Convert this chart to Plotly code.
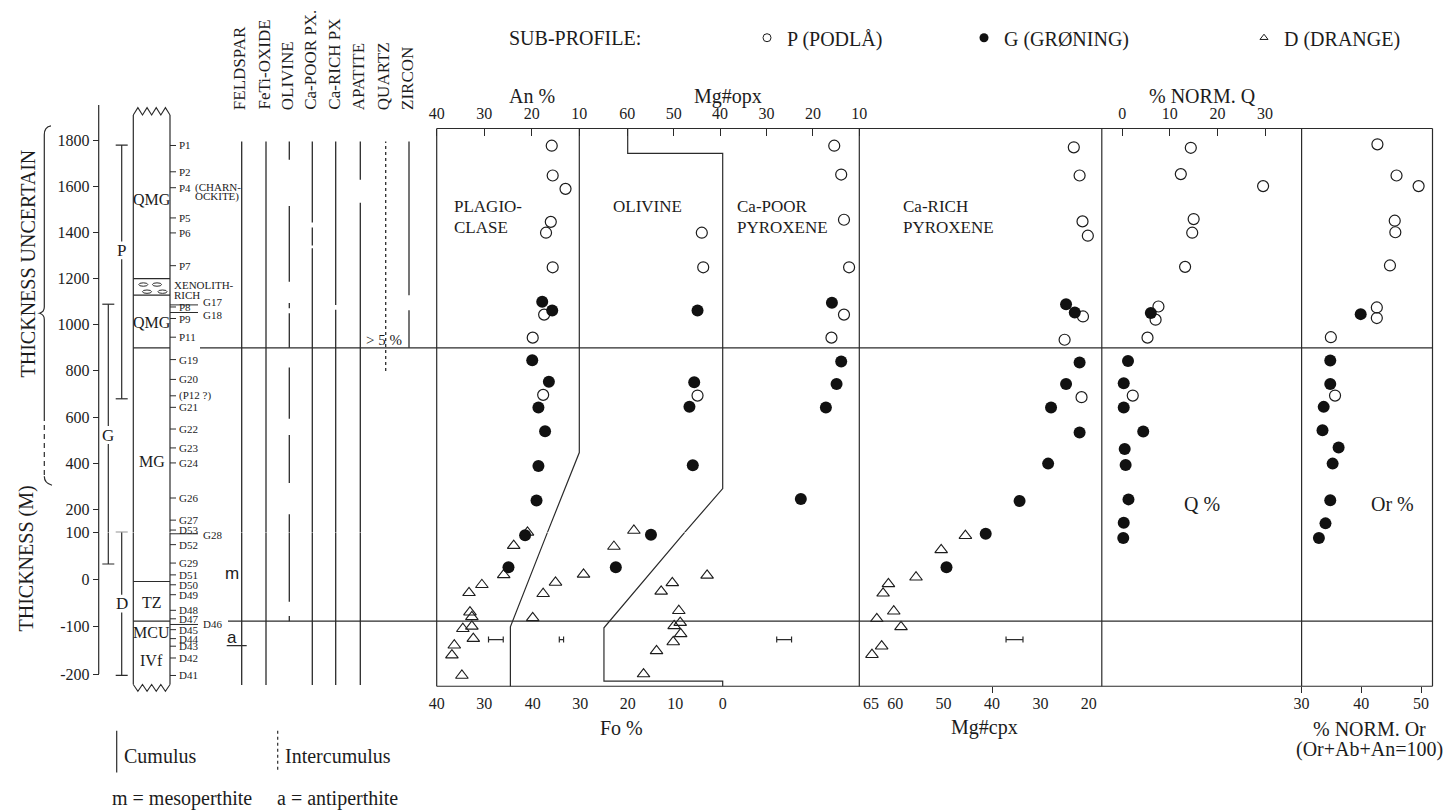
import plotly.graph_objects as go

W, H = 1449, 810
SERIF = "Liberation Serif, Times New Roman, serif"
SANS = "Liberation Sans, Arial, sans-serif"
INK = "#1c1c1c"
LN = "#2b2b2b"
BRK = 100  # thickness (m) where the vertical scale changes

# ---------------- DATA ----------------
# Plagioclase An %
P_AN_T = [1776, 1647, 1589, 1446, 1399, 1249, 1044, 944, 696]
P_AN = [15.8, 15.6, 12.9, 16.0, 17.0, 15.6, 17.4, 19.8, 17.6]
G_AN_T = [1100, 1062, 846, 753, 641, 538, 388, 238, 94, 26]
G_AN = [17.8, 15.7, 19.9, 16.4, 18.6, 17.2, 18.6, 19.0, 21.4, 24.9]
D_AN_T = [100, 72, 10, -11, -28, -69, -79, -99, -104, -125, -139, -160, -203]
D_AN = [20.9, 23.8, 25.9, 30.5, 33.2, 33.0, 32.6, 32.6, 34.5, 32.3, 36.3, 36.8, 34.7]
# Olivine Fo %
P_FO_T = [1399, 1249, 693]
P_FO = [4.4, 4.1, 5.3]
G_FO_T = [1062, 751, 645, 391, 95, 26]
G_FO = [5.3, 6.0, 7.0, 6.3, 15.1, 22.5]
D_FO_T = [108, 70, 11, -6, -30, -81]
D_FO = [18.7, 22.9, 29.3, 35.2, 37.8, 40.0]
# Ca-poor pyroxene Mg#opx
P_OPX_T = [1776, 1651, 1455, 1249, 1044, 944]
P_OPX = [15.4, 13.9, 13.3, 12.2, 13.3, 16.0]
G_OPX_T = [1095, 841, 743, 641, 245]
G_OPX = [15.9, 13.9, 14.9, 17.2, 22.6]
D_OPX_T = [9, -7, -25, -66, -91, -98, -115, -132, -151, -200]
D_OPX = [42.8, 50.3, 52.7, 48.9, 48.6, 49.9, 48.5, 50.1, 53.7, 56.5]
# Ca-rich pyroxene Mg#cpx
P_CPX_T = [1769, 1647, 1448, 1386, 1036, 935, 686]
P_CPX = [23.1, 21.9, 21.3, 20.2, 21.2, 25.0, 21.5]
G_CPX_T = [1089, 1053, 836, 743, 641, 533, 398, 236, 97, 26]
G_CPX = [24.7, 22.9, 21.9, 24.7, 27.8, 21.9, 28.4, 34.3, 41.3, 49.4]
D_CPX_T = [93, 63, 5, -9, -29, -67, -83, -100, -141, -159]
D_CPX = [45.5, 50.5, 55.7, 61.4, 62.5, 60.3, 63.8, 58.8, 62.8, 64.8]
# Normative Q %
P_Q_T = [1767, 1653, 1601, 1458, 1399, 1251, 1079, 1022, 944, 693]
P_Q = [14.4, 12.3, 29.6, 15.0, 14.7, 13.2, 7.6, 7.0, 5.3, 2.2]
G_Q_T = [1051, 843, 746, 641, 537, 461, 392, 243, 142, 88]
G_Q = [6.0, 1.2, 0.3, 0.3, 4.4, 0.5, 0.7, 1.3, 0.3, 0.2]
# Normative Or %
P_OR_T = [1782, 1647, 1601, 1451, 1401, 1257, 1075, 1029, 946, 693]
P_OR = [42.7, 45.9, 49.6, 45.6, 45.7, 44.8, 42.6, 42.6, 34.9, 35.6]
G_OR_T = [1046, 845, 743, 644, 543, 468, 398, 239, 139, 88]
G_OR = [39.9, 34.8, 34.8, 33.7, 33.5, 36.2, 35.2, 34.8, 34.0, 32.9]
# analytical uncertainty bars (centre, half width) at one level
ERR_T = -127
ERR_AN = (27.55, 1.55)
ERR_FO = (33.95, 0.45)
ERR_OPX = (26.2, 1.6)
ERR_CPX = (35.35, 1.75)
# mineral stability field boundaries
PLAG_FIELD_AN = [10, 10, 16.7, 24.5, 24.5]
PLAG_FIELD_T = [1850, 446, 100, -100, -226]
OL_FIELD_FO = [20, 20, 0, 0, 8, 25, 25, 0, 0]
OL_FIELD_T = [1850, 1743, 1743, 290, 100, -102, -215, -215, -226]

# stratigraphic column
UNIT_NAMES = ["QMG", "QMG", "MG", "TZ", "MCU", "IVf"]
UNIT_T = [1545, 1009, 407, -49, -112, -171]
UNIT_BOUNDS = [1200, 1128, 900, -4, -88]
COL_TOP, COL_BOT = 1909, -222
SAMPLES = ["P1", "P2", "P4", "P5", "P6", "P7", "P8", "P9", "P11", "G19", "G20", "(P12 ?)",
           "G21", "G22", "G23", "G24", "G26", "G27", "D53", "D52", "G29", "D51", "D50",
           "D49", "D48", "D47", "D45", "D44", "D43", "D42", "D41"]
SAMPLE_T = [1777, 1663, 1594, 1463, 1398, 1256, 1077, 1027, 946, 849, 763, 692,
            642, 548, 466, 401, 249, 153, 110, 74, 35, 10, -11,
            -32, -65, -83, -106, -125, -141, -166, -203]
SAMPLES_LONG = ["G17", "G18", "G28", "D46"]
SAMPLES_LONG_T = [1086, 1053, 97, -95]
SAMPLES_LONG_LABEL_T = [1100, 1043, 95, -95]
BAR_NAMES = ["P", "G", "D"]
BAR_TOP = [1779, 1089, 100]
BAR_BOT = [679, 33, -203]
BAR_LABEL_T = [1322, 522, -51]

# mineral presence (cumulus) intervals
MINERALS = ["FELDSPAR", "FeTi-OXIDE", "OLIVINE", "Ca-POOR PX.", "Ca-RICH PX",
            "APATITE", "QUARTZ", "ZIRCON"]
MIN_INTERVALS = [
    [(1794, -223)],
    [(1794, -223)],
    [(1794, 1715), (1515, 1186), (1094, 1072), (1050, 900), (815, 593),
     (522, 314), (179, -47), (-77, -88)],
    [(1794, 1443), (1422, 1343), (1332, -223)],
    [(1794, 1086), (1065, -223)],
    [(1794, 1629), (1529, -223)],
    [(1794, 800)],
    [(1794, 1128), (1063, 900)],
]
MIN_INTERCUMULUS = [False, False, False, False, False, False, True, False]

YTICK_U = [200, 400, 600, 800, 1000, 1200, 1400, 1600, 1800]
YTICK_L = [-200, -100, 0, 100]
AN_TOP_TICKS = [40, 30, 20, 10]
AN_BOT_TICKS = [40, 30]
FO_TICKS = [40, 30, 20, 10, 0]
OPX_TICKS = [60, 50, 40, 30, 20, 10]
CPX_TICKS = [65, 60, 50, 40, 30, 20]
Q_TICKS = [0, 10, 20, 30]
OR_TICKS = [30, 40, 50]

# ---------------- scales ----------------
K_U, PX1800 = 0.233, 133.5
K_L = 0.477
PX_BRK = PX1800 + (1800 - BRK) * K_U
Y_SPLIT = 1 - PX_BRK / H
YU = [BRK, 1800 + PX1800 / K_U]
YL = [BRK - (H - PX_BRK) / K_L, BRK]


def lin_range(va, pa, vb, pb):
    s = (vb - va) / (pb - pa)
    return [va - pa * s, va + (W - pa) * s]


R_AN = lin_range(40, 436.7, 10, 579.3)
R_FO = lin_range(40, 532.7, 0, 722.7)
R_OPX = lin_range(60, 627.3, 10, 859.3)
R_CPX = lin_range(65, 871.0, 20, 1088.8)
R_Q = lin_range(0, 1122.3, 30, 1265.0)
R_OR = lin_range(30, 1301.6, 50, 1421.0)

BOX_L, BOX_R, BOX_T, BOX_B = 436.7, 1432.5, 121.7, 685.0


def yname(t):
    return 'y' if t >= BRK else 'y2'


def gap_t(t, px):
    return px / K_U if t >= BRK else px / K_L


fig = go.Figure()


def add_points(xa, ts, vs, sty):
    for ya, keep in (('y', lambda t: t >= BRK), ('y2', lambda t: t < BRK)):
        xs = [v for v, t in zip(vs, ts) if keep(t)]
        ys = [t for t in ts if keep(t)]
        if xs:
            fig.add_trace(go.Scatter(x=xs, y=ys, xaxis=xa, yaxis=ya, mode='markers',
                                     marker=sty, cliponaxis=False, showlegend=False,
                                     hoverinfo='skip'))


def add_polyline(xa, vs, ts):
    up = [(v, t) for v, t in zip(vs, ts) if t >= BRK]
    lo = [(v, t) for v, t in zip(vs, ts) if t <= BRK]
    for ya, pts in (('y', up), ('y2', lo)):
        if len(pts) > 1:
            fig.add_trace(go.Scatter(x=[p[0] for p in pts], y=[p[1] for p in pts],
                                     xaxis=xa, yaxis=ya, mode='lines',
                                     line=dict(color=LN, width=1.2), showlegend=False,
                                     hoverinfo='skip'))


STY_P = dict(symbol='circle-open', size=11, color=INK, line=dict(width=1.2, color=INK))
STY_G = dict(symbol='circle', size=12, color='#111111', line=dict(width=0))
STY_D = dict(symbol='triangle-up-open', size=11, color=INK, line=dict(width=1.1, color=INK))

# the plagioclase field line is drawn on the bottom An% axis (same scale as the top one)
add_polyline('x2', PLAG_FIELD_AN, PLAG_FIELD_T)
add_polyline('x3', OL_FIELD_FO, OL_FIELD_T)

for xa, ts, vs in (('x', D_AN_T, D_AN), ('x3', D_FO_T, D_FO), ('x4', D_OPX_T, D_OPX),
                   ('x5', D_CPX_T, D_CPX)):
    add_points(xa, ts, vs, STY_D)
for xa, ts, vs in (('x', P_AN_T, P_AN), ('x3', P_FO_T, P_FO), ('x4', P_OPX_T, P_OPX),
                   ('x5', P_CPX_T, P_CPX), ('x6', P_Q_T, P_Q), ('x7', P_OR_T, P_OR)):
    add_points(xa, ts, vs, STY_P)
for xa, ts, vs in (('x', G_AN_T, G_AN), ('x3', G_FO_T, G_FO), ('x4', G_OPX_T, G_OPX),
                   ('x5', G_CPX_T, G_CPX), ('x6', G_Q_T, G_Q), ('x7', G_OR_T, G_OR)):
    add_points(xa, ts, vs, STY_G)

for xa, (c, e) in (('x', ERR_AN), ('x3', ERR_FO), ('x4', ERR_OPX), ('x8', ERR_CPX)):
    fig.add_trace(go.Scatter(x=[c], y=[ERR_T], xaxis=xa, yaxis=yname(ERR_T), mode='markers',
                             marker=dict(size=1, color='rgba(0,0,0,0)'),
                             error_x=dict(type='data', array=[e], width=3, thickness=1.2, color=LN),
                             showlegend=False, hoverinfo='skip'))
# empty trace so that the tick-only Or axis is drawn
fig.add_trace(go.Scatter(x=[None], y=[None], xaxis='x9', yaxis='y', mode='markers',
                         showlegend=False, hoverinfo='skip'))

# legend entries (sub-profiles)
LEG_NAMES = ["P (PODLÅ)", "G (GRØNING)", "D (DRANGE)"]
LEG_STY = [dict(symbol='circle-open', size=8, color=INK, line=dict(width=1, color=INK)),
           dict(symbol='circle', size=9, color='#111111'),
           dict(symbol='triangle-up-open', size=7, color=INK, line=dict(width=1, color=INK))]
LEG_IDS = ['legend', 'legend2', 'legend3']
LEG_SYM_PX = [767, 984, 1264]
for nm, st, lid in zip(LEG_NAMES, LEG_STY, LEG_IDS):
    fig.add_trace(go.Scatter(x=[None], y=[None], xaxis='x', yaxis='y', mode='markers',
                             marker=st, name=nm, legend=lid, showlegend=True))

# ---------------- shapes ----------------
shapes = []


def ln(px0, py0, px1, py1, width=1.2, dash='solid'):
    shapes.append(dict(type='line', xref='paper', yref='paper', x0=px0 / W, y0=1 - py0 / H,
                       x1=px1 / W, y1=1 - py1 / H, line=dict(color=LN, width=width, dash=dash)))


def vline_t(px, t0, t1, width=1.2, dash='solid'):
    hi, lo = max(t0, t1), min(t0, t1)
    for ya, a, b in (('y', max(lo, BRK), hi), ('y2', lo, min(hi, BRK))):
        if b > a:
            shapes.append(dict(type='line', xref='paper', yref=ya, x0=px / W, x1=px / W,
                               y0=a, y1=b, line=dict(color=LN, width=width, dash=dash)))


def hline_t(px0, px1, t, width=1.2):
    shapes.append(dict(type='line', xref='paper', yref=yname(t), x0=px0 / W, x1=px1 / W,
                       y0=t, y1=t, line=dict(color=LN, width=width)))


def pt(px, py):
    return f"{px / W:.5f},{1 - py / H:.5f}"


# panel frame
ln(BOX_L, BOX_T, BOX_R, BOX_T)
ln(BOX_L, BOX_B, BOX_R, BOX_B)
for x in (BOX_L, 859.3, 1101.8, 1301.6, BOX_R):
    ln(x, BOX_T, x, BOX_B)

# thickness axis line
vline_t(98.7, 1952, -200)

# long horizontal marker lines
hline_t(200, BOX_R, 900)
hline_t(228, BOX_R, -88)

# stratigraphic column
CL, CR = 133.3, 170.0
vline_t(CL, COL_TOP, COL_BOT)
vline_t(CR, COL_TOP, COL_BOT)
for b in UNIT_BOUNDS:
    hline_t(CL, CR, b)
top_py = PX1800 + (1800 - COL_TOP) * K_U
bot_py = PX_BRK + (BRK - COL_BOT) * K_L
zz_top = "M" + pt(CL, top_py)
zz_bot = "M" + pt(CL, bot_py)
n = 8
for i in range(1, n + 1):
    x = CL + (CR - CL) * i / n
    zz_top += " L" + pt(x, top_py - (7.5 if i % 2 else 0))
    zz_bot += " L" + pt(x, bot_py + (7 if i % 2 else 0))
shapes.append(dict(type='path', xref='paper', yref='paper', path=zz_top, line=dict(color=LN, width=1.1)))
shapes.append(dict(type='path', xref='paper', yref='paper', path=zz_bot, line=dict(color=LN, width=1.1)))
for cx, cy in ((143.3, 279.3), (157.0, 279.3), (147.0, 286.5), (162.5, 286.5)):
    shapes.append(dict(type='circle', xref='paper', yref='paper', x0=(cx - 4.5) / W, x1=(cx + 4.5) / W,
                       y0=1 - (cy + 1.7) / H, y1=1 - (cy - 1.7) / H, line=dict(color=LN, width=1)))

# sample ticks
for t in SAMPLE_T:
    hline_t(CR, CR + 6, t, width=1)
for t in SAMPLES_LONG_T:
    hline_t(CR, CR + 28, t, width=1)

# sub-profile range bars
for x, top, bot, lt in zip((121.7, 108.3, 121.7), BAR_TOP, BAR_BOT, BAR_LABEL_T):
    g = gap_t(lt, 9)
    vline_t(x, top, lt + g)
    vline_t(x, lt - g, bot)
    hline_t(x - 6, x + 6, top)
    hline_t(x - 6, x + 6, bot)

# mineral presence lines
MIN_X = [241.7, 266.0, 289.3, 312.3, 335.7, 360.3, 385.7, 409.0]
for x, ivs, inter in zip(MIN_X, MIN_INTERVALS, MIN_INTERCUMULUS):
    for a, b in ivs:
        vline_t(x, a, b, width=1.3, dash='dot' if inter else 'solid')

# antiperthite marker line
hline_t(226.7, 246.7, -140)

# brace
brace = ("M" + pt(51, 119) + " Q" + pt(44.3, 120) + " " + pt(44.3, 128) + " L" + pt(44.3, 302)
         + " Q" + pt(44.3, 307) + " " + pt(39.5, 308.3) + " Q" + pt(44.3, 309.6) + " "
         + pt(44.3, 314.5) + " L" + pt(44.3, 412))
shapes.append(dict(type='path', xref='paper', yref='paper', path=brace, line=dict(color=LN, width=1.2)))
ln(44.3, 412, 44.3, 473, dash='5px,4px')
shapes.append(dict(type='path', xref='paper', yref='paper',
                   path="M" + pt(44.3, 473) + " Q" + pt(44.3, 480) + " " + pt(52, 482),
                   line=dict(color=LN, width=1.2)))

# cumulus legend lines
ln(116.7, 730, 116.7, 772)
ln(277.7, 730, 277.7, 770, dash='dot')

# ---------------- annotations ----------------
ann = []


def text(s, px, py, size=16, xanchor='center', yanchor='middle', angle=0, family=SERIF):
    ann.append(dict(text=s, x=px / W, y=1 - py / H, xref='paper', yref='paper', showarrow=False,
                    xanchor=xanchor, yanchor=yanchor, textangle=angle,
                    font=dict(family=family, size=size, color=INK)))


def text_t(s, px, t, size=11, xanchor='left'):
    ann.append(dict(text=s, x=px / W, y=t, xref='paper', yref=yname(t), showarrow=False,
                    xanchor=xanchor, yanchor='middle', font=dict(family=SERIF, size=size, color=INK)))


text("SUB-PROFILE:", 506.7, 30, size=20, xanchor='left')
text("An %", 531.7, 89, size=20)
text("Mg#opx", 728.3, 89, size=20)
text("% NORM. Q", 1202, 89, size=20)
text("Fo %", 621.7, 727, size=20)
text("Mg#cpx", 984.8, 727, size=20)
text("% NORM. Or", 1369.6, 728.5, size=20)
text("(Or+Ab+An=100)", 1369.6, 749, size=20)
for s, x, y in (("PLAGIO-", 451.7, 200.7), ("CLASE", 451.7, 221.7), ("OLIVINE", 610.7, 200.7),
                ("Ca-POOR", 735, 200.7), ("PYROXENE", 735, 221.7), ("Ca-RICH", 900.9, 200.7),
                ("PYROXENE", 900.9, 221.7)):
    text(s, x, y, size=17, xanchor='left')
text("Q %", 1201.5, 500.7, size=20)
text("Or %", 1392, 500.7, size=20)
text("THICKNESS UNCERTAIN", 28, 258, size=20, angle=-90)
text("THICKNESS (M)", 27, 556, size=20, angle=-90)
for nm, x in zip(MINERALS, MIN_X):
    text(nm, x - 1.5, 105, size=17, angle=-90, yanchor='bottom')
text("&gt; 5 %", 384, 335, size=15)
text("m", 231.7, 570.7, size=17, family=SANS)
text("a", 231.7, 635.5, size=17, family=SANS)
text("Cumulus", 121.7, 755, size=20, xanchor='left')
text("Intercumulus", 282.7, 755, size=20, xanchor='left')
text("m = mesoperthite", 110, 798, size=20, xanchor='left')
text("a = antiperthite", 275, 798, size=20, xanchor='left')
for nm, t in zip(UNIT_NAMES, UNIT_T):
    text_t(nm, (CL + CR) / 2, t, size=16, xanchor='center')
for nm, t in zip(SAMPLES, SAMPLE_T):
    text_t(nm, CR + 7, t)
for nm, t in zip(SAMPLES_LONG, SAMPLES_LONG_LABEL_T):
    text_t(nm, CR + 31, t)
text_t("XENOLITH-", 171.5, 1174)
text_t("RICH", 171.5, 1128)
text_t("(CHARN-", 193.3, 1596)
text_t("OCKITE)", 193.3, 1558)
for nm, x, t in zip(BAR_NAMES, (121.7, 108.3, 121.7), BAR_LABEL_T):
    text_t(nm, x, t, size=17, xanchor='center')


# ---------------- axes ----------------
def xaxis(r, side, vals, ticks='', pos_px=BOX_T, labels=True):
    return dict(domain=[0, 1], range=r, anchor='free', position=1 - pos_px / H, side=side,
                tickmode='array', tickvals=vals,
                ticktext=[str(v) for v in vals] if labels else [''] * len(vals),
                ticks=ticks, ticklen=7, tickwidth=1.2, tickcolor=LN, showgrid=False,
                zeroline=False, showline=False, fixedrange=True,
                ticklabelstandoff=6,
                tickfont=dict(family=SERIF, size=16, color=INK))


def yaxis(dom, r, vals):
    return dict(domain=dom, range=r, anchor='free', position=98.7 / W, side='left',
                tickmode='array', tickvals=vals, ticktext=[str(v) for v in vals],
                ticks='outside', ticklen=6, tickwidth=1.2, tickcolor=LN, showgrid=False,
                zeroline=False, showline=False, fixedrange=True,
                tickfont=dict(family=SERIF, size=16, color=INK))


legend_common = dict(yanchor='middle', y=1 - 30 / H, xanchor='left', bgcolor='rgba(0,0,0,0)',
                     borderwidth=0, orientation='h', font=dict(family=SERIF, size=20, color=INK),
                     itemclick=False, itemdoubleclick=False)

fig.update_layout(
    width=W, height=H, margin=dict(l=0, r=0, t=0, b=0),
    paper_bgcolor='white', plot_bgcolor='rgba(0,0,0,0)', hovermode=False,
    xaxis=xaxis(R_AN, 'top', AN_TOP_TICKS, 'inside'),
    xaxis2=xaxis(R_AN, 'bottom', AN_BOT_TICKS, '', BOX_B),
    xaxis3=xaxis(R_FO, 'bottom', FO_TICKS, '', BOX_B),
    xaxis4=xaxis(R_OPX, 'top', OPX_TICKS, 'inside'),
    xaxis5=xaxis(R_CPX, 'bottom', CPX_TICKS, '', BOX_B),
    xaxis6=xaxis(R_Q, 'top', Q_TICKS, 'inside'),
    xaxis7=xaxis(R_OR, 'bottom', OR_TICKS, '', BOX_B),
    xaxis8=xaxis(R_CPX, 'bottom', [40], 'outside', BOX_B, labels=False),
    xaxis9=xaxis(R_OR, 'bottom', OR_TICKS, 'outside', BOX_B, labels=False),
    yaxis=yaxis([Y_SPLIT, 1], YU, YTICK_U),
    yaxis2=yaxis([0, Y_SPLIT], YL, YTICK_L),
    shapes=shapes, annotations=ann,
    legend=dict(legend_common, x=(LEG_SYM_PX[0] - 20) / W),
    legend2=dict(legend_common, x=(LEG_SYM_PX[1] - 20) / W),
    legend3=dict(legend_common, x=(LEG_SYM_PX[2] - 20) / W),
)
fig.update_layout(xaxis8=dict(ticklen=6), xaxis9=dict(ticklen=6))

fig.write_html("out.html", config={'displayModeBar': False},
               post_script="document.body.style.margin='0';")
